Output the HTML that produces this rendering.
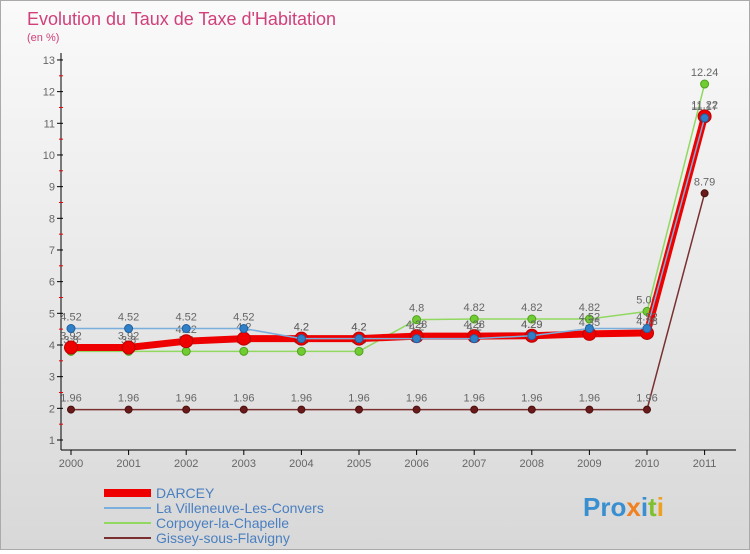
<!DOCTYPE html>
<html><head><meta charset="utf-8"><style>
body{margin:0;width:750px;height:550px;overflow:hidden;font-family:"Liberation Sans",sans-serif}
#wrap{position:relative;width:748px;height:548px;border:1px solid #aaa;background:linear-gradient(#fafafa,#d8d8d8)}
</style></head><body>
<div id="wrap">
<svg id="chart" width="748" height="548"></svg>
</div>
<script>
const years=[2000,2001,2002,2003,2004,2005,2006,2007,2008,2009,2010,2011];
const darcey=[3.92,3.92,4.12,4.2,4.2,4.2,4.28,4.28,4.29,4.35,4.38,11.22];
const villeneuve=[4.52,4.52,4.52,4.52,4.2,4.2,4.2,4.2,4.29,4.52,4.52,11.17];
const corpoyer=[3.8,3.8,3.8,3.8,3.8,3.8,4.8,4.82,4.82,4.82,5.06,12.24];
const gissey=[1.96,1.96,1.96,1.96,1.96,1.96,1.96,1.96,1.96,1.96,1.96,8.79];
const yTicks=[1,2,3,4,5,6,7,8,9,10,11,12,13];
const NS="http://www.w3.org/2000/svg";
const svg=document.getElementById('chart');
const X=i=>70+i*57.6;
const Y=v=>439-(v-1)*31.67;
function mk(t,a,p){const e=document.createElementNS(NS,t);for(const k in a)e.setAttribute(k,a[k]);(p||svg).appendChild(e);return e;}
let t=mk('text',{x:26,y:24,fill:'#d0407a','font-size':18,'font-weight':300});t.textContent="Evolution du Taux de Taxe d'Habitation";

t=mk('text',{x:26,y:40,fill:'#d0407a','font-size':11});t.textContent="(en %)";

let ax=mk('line',{x1:60,y1:52,x2:60,y2:449,stroke:'#000'});

ax=mk('line',{x1:60,y1:449,x2:735,y2:449,stroke:'#000'});

yTicks.forEach(v=>{
 mk('line',{x1:56,x2:62,y1:Y(v),y2:Y(v),stroke:'#000'});
 if(v<13)mk('line',{x1:58,x2:62,y1:Y(v+0.5),y2:Y(v+0.5),stroke:'#e00'});
 const l=mk('text',{x:54,y:Y(v)+4,'text-anchor':'end','font-size':11,fill:'#666'});l.textContent=v;
 
});
years.forEach((y,i)=>{
 mk('line',{x1:X(i),x2:X(i),y1:449,y2:454,stroke:'#000'});
 const l=mk('text',{x:X(i),y:466,'text-anchor':'middle','font-size':11,fill:'#666'});l.textContent=y;
 
});
function series(d,color,w,r,name,dot,stroke){
 const g=mk('g',{});
 mk('polyline',{points:d.map((v,i)=>X(i)+','+Y(v)).join(' '),fill:'none',stroke:color,'stroke-width':w},g);
 d.forEach((v,i)=>{
  const c=mk('circle',{cx:X(i),cy:Y(v),r:r,fill:dot,stroke:stroke,'stroke-width':1},g);
  
  const l=mk('text',{x:X(i),y:Y(v)-8,'text-anchor':'middle','font-size':11,fill:'#666'},g);l.textContent=v;
 });
}
series(gissey,'#7a3030',1.5,3.5,'series-gissey','#6a1a1a','#4a1010');
series(corpoyer,'#90d860',1.5,4,'series-corpoyer','#70cc30','#50a020');
series(darcey,'#ee0000',7,6.5,'series-darcey','#ee0000','#b00');
series(villeneuve,'#7aaedc',1.5,4,'series-villeneuve','#3080c8','#2060a0');
const leg=[['DARCEY','#ee0000',8],['La Villeneuve-Les-Convers','#7aaedc',2],['Corpoyer-la-Chapelle','#90d860',2],['Gissey-sous-Flavigny','#7a3030',2]];
leg.forEach((l,i)=>{
 const g=mk('g',{});
 const y=492+i*15;
 mk('line',{x1:103,x2:150,y1:y,y2:y,stroke:l[1],'stroke-width':l[2]},g);
 const tx=mk('text',{x:155,y:y+5,'font-size':14,fill:'#4a7fc0'},g);tx.textContent=l[0];
});
const p=mk('text',{x:582,y:515,'font-size':26,'font-weight':600,fill:'#3a8fd0'});
p.innerHTML='<tspan fill="#3a8fd0">Pro</tspan><tspan fill="#f08020">x</tspan><tspan fill="#3a8fd0">i</tspan><tspan fill="#80c030">t</tspan><tspan fill="#f0a020">i</tspan>';

</script>
</body></html>
